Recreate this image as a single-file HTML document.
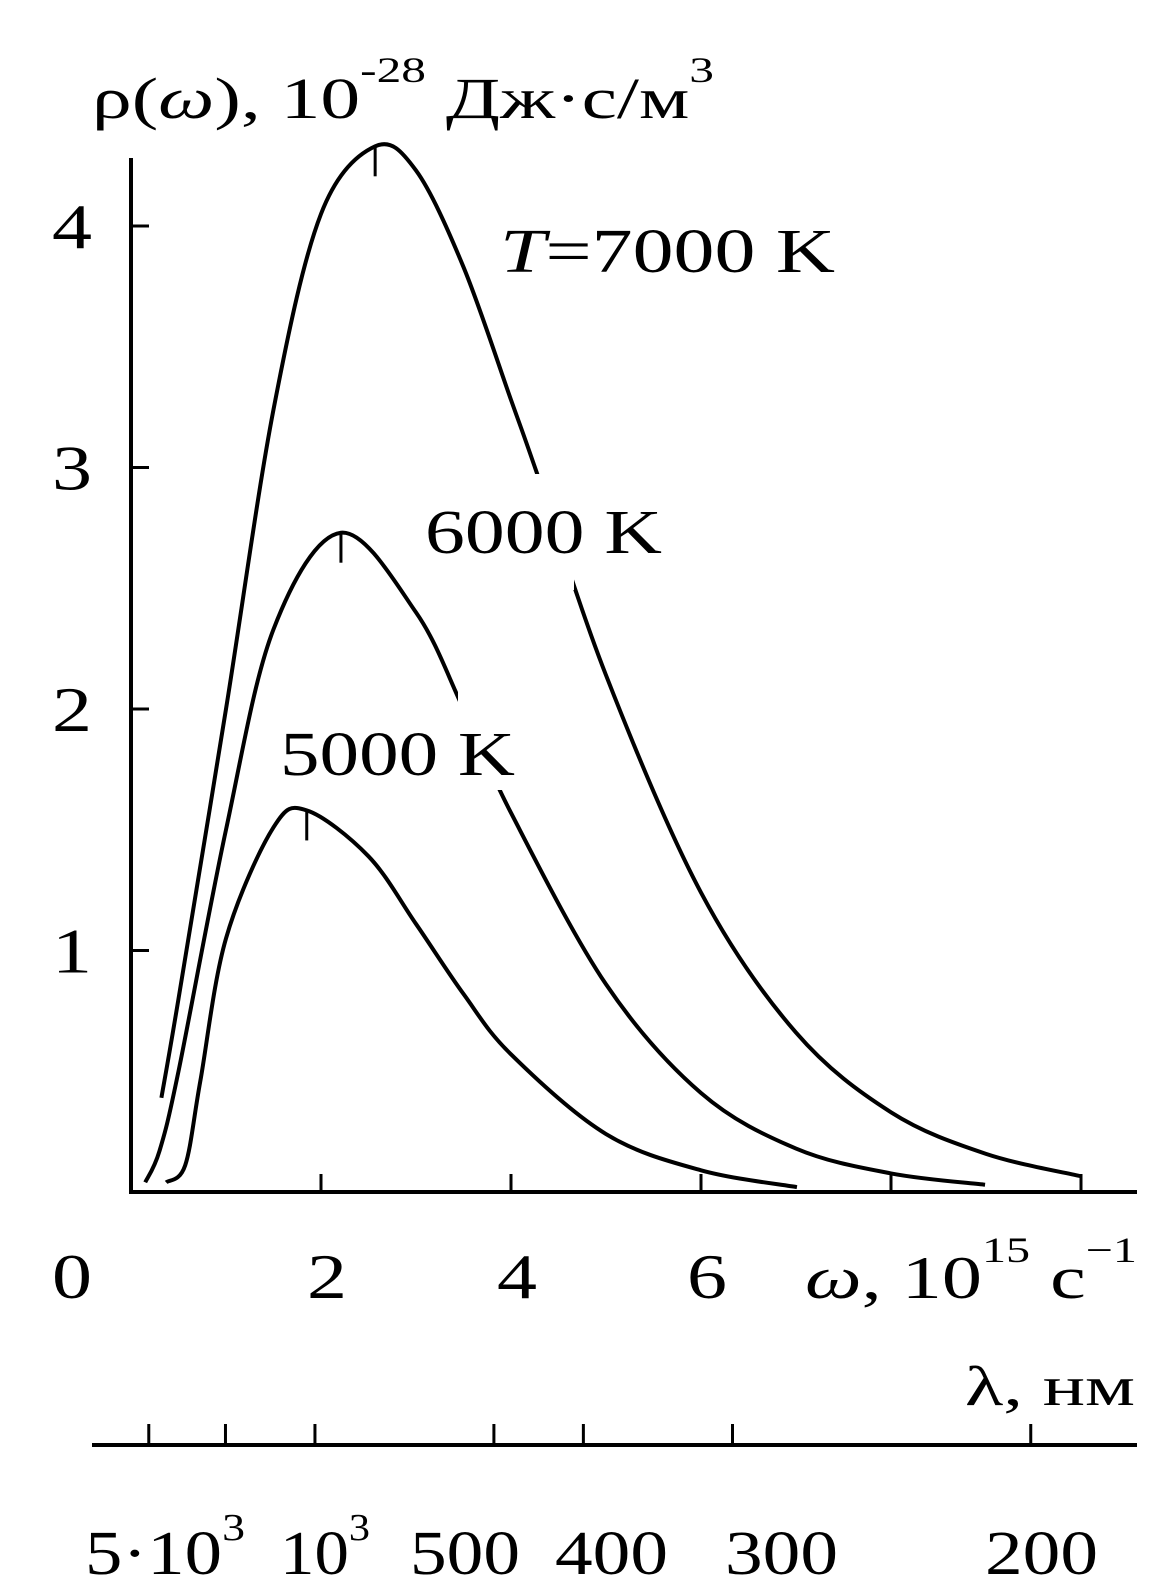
<!DOCTYPE html>
<html><head><meta charset="utf-8">
<style>
html,body{margin:0;padding:0;background:#fff;}
svg{display:block;}
text{font-family:"Liberation Serif",serif;fill:#000;}
</style></head>
<body>
<svg id="chart" width="1175" height="1586" viewBox="0 0 1175 1586" xmlns="http://www.w3.org/2000/svg">
<g id="axes"></g>
<g id="curves"></g>
<g id="masks"></g>
<g id="labels">
<text x="92" y="118" font-size="58" textLength="622" lengthAdjust="spacingAndGlyphs">ρ(<tspan font-style="italic">ω</tspan>), 10<tspan dy="-36" font-size="36">-28</tspan><tspan dy="36"> Дж·с/м</tspan><tspan dy="-36" font-size="36">3</tspan></text>
<text x="500" y="272" font-size="62" textLength="335" lengthAdjust="spacingAndGlyphs"><tspan font-style="italic">T</tspan>=7000 K</text>
<text x="425" y="553" font-size="62" textLength="237" lengthAdjust="spacingAndGlyphs">6000 K</text>
<text x="280" y="775" font-size="62" textLength="235" lengthAdjust="spacingAndGlyphs">5000 K</text>
<text x="805" y="1298" font-size="60" textLength="332" lengthAdjust="spacingAndGlyphs"><tspan font-style="italic">ω</tspan>, 10<tspan dy="-36" font-size="36">15</tspan><tspan dy="36"> с</tspan><tspan dy="-36" font-size="36">−1</tspan></text>
<text x="965" y="1405" font-size="56" textLength="170" lengthAdjust="spacingAndGlyphs">λ, нм</text>
</g>
</svg>
<script>
const yTicks=[1,2,3,4];
const xTicks=[0,2,4,6,8,10];
const xTickLabels=["0","2","4","6"];
const w7000=[0.32,0.5,1,1.5,2,2.57,3,3.5,4,4.27,5,6,7,8,9,10];
const r7000=[0.39,0.8,2.0,3.24,4.05,4.33,4.23,3.83,3.28,2.98,2.14,1.24,0.66,0.33,0.158,0.065];
const w6000=[0.15,0.3,0.5,1,1.5,2.21,3,3.5,4,5,6,7,8,8.99];
const r6000=[0.04,0.17,0.5,1.5,2.33,2.73,2.40,2.00,1.57,0.86,0.41,0.18,0.077,0.03];
const w5000=[0.37,0.57,0.73,1,1.5,1.85,2.5,3,3.5,4,5,6,7.01];
const r5000=[0.04,0.11,0.46,1.05,1.51,1.58,1.39,1.11,0.82,0.57,0.24,0.09,0.02];
const peaksW=[2.57,2.21,1.85];
const peaksR=[4.33,2.73,1.58];
const lambdaTicks=[14000,2000,1000,500,400,300,200];
const NS="http://www.w3.org/2000/svg";
const X=w=>131+95*w;
const Y=r=>1192-241.5*r;
const LX=l=>136+95*1883.7/l;
function mk(tag,attrs,parent){const e=document.createElementNS(NS,tag);for(const k in attrs)e.setAttribute(k,attrs[k]);parent.appendChild(e);return e;}
const axes=document.getElementById('axes');
let e;
e=mk('line',{x1:131,y1:158,x2:131,y2:1192,stroke:'#000','stroke-width':4},axes);


e=mk('line',{x1:129,y1:1192,x2:1137,y2:1192,stroke:'#000','stroke-width':4},axes);


yTicks.forEach(v=>{
 e=mk('line',{x1:131,y1:Y(v),x2:149,y2:Y(v),stroke:'#000','stroke-width':3},axes);
 
 
 e=mk('text',{x:52,y:Y(v)+22,'font-size':64,textLength:40,lengthAdjust:'spacingAndGlyphs'},axes);e.textContent=String(v);
 
 
});
xTicks.forEach((v,i)=>{
 if(v>0){e=mk('line',{x1:X(v),y1:1192,x2:X(v),y2:1174,stroke:'#000','stroke-width':3},axes);
 
 }
 if(i<xTickLabels.length){e=mk('text',{x:i==0?52:X(v)-14,y:1298,'font-size':64,textLength:40,lengthAdjust:'spacingAndGlyphs'},axes);e.textContent=xTickLabels[i];
 
 }
});
e=mk('line',{x1:92,y1:1445,x2:1137,y2:1445,stroke:'#000','stroke-width':4},axes);


lambdaTicks.forEach(l=>{
 e=mk('line',{x1:LX(l),y1:1445,x2:LX(l),y2:1424,stroke:'#000','stroke-width':3},axes);
 
 
});
const lamLabels=[[85,160,'5·10<tspan dy="-34" font-size="38">3</tspan>'],[280,90,'10<tspan dy="-34" font-size="38">3</tspan>'],[410,110,'500'],[555,113,'400'],[725,113,'300'],[985,113,'200']];
lamLabels.forEach(a=>{e=mk('text',{x:a[0],y:1574,'font-size':62,textLength:a[1],lengthAdjust:'spacingAndGlyphs'},axes);e.innerHTML=a[2];
 
 });
function path(ws,rs){const p=ws.map((w,i)=>[X(w),Y(rs[i])]);let d='M'+p[0][0]+','+p[0][1];
 for(let i=0;i<p.length-1;i++){const p0=p[Math.max(0,i-1)],p1=p[i],p2=p[i+1],p3=p[Math.min(p.length-1,i+2)];
 const c1=[p1[0]+(p2[0]-p0[0])/6,p1[1]+(p2[1]-p0[1])/6],c2=[p2[0]-(p3[0]-p1[0])/6,p2[1]-(p3[1]-p1[1])/6];
 d+=' C'+c1+' '+c2+' '+p2;}return d;}
const curves=document.getElementById('curves');
[[w7000,r7000,'curve-7000k'],[w6000,r6000,'curve-6000k'],[w5000,r5000,'curve-5000k']].forEach(c=>{
 e=mk('path',{d:path(c[0],c[1]),fill:'none',stroke:'#000','stroke-width':4},curves);
 
 
});
peaksW.forEach((w,i)=>{
 e=mk('line',{x1:X(w),y1:Y(peaksR[i]),x2:X(w),y2:Y(peaksR[i])+30,stroke:'#000','stroke-width':3},curves);
 
 
});
const masks=document.getElementById('masks');
e=mk('rect',{x:532,y:474,width:42,height:116,fill:'#fff'},masks);


e=mk('rect',{x:458,y:692,width:58,height:98,fill:'#fff'},masks);


</script>
</body></html>
